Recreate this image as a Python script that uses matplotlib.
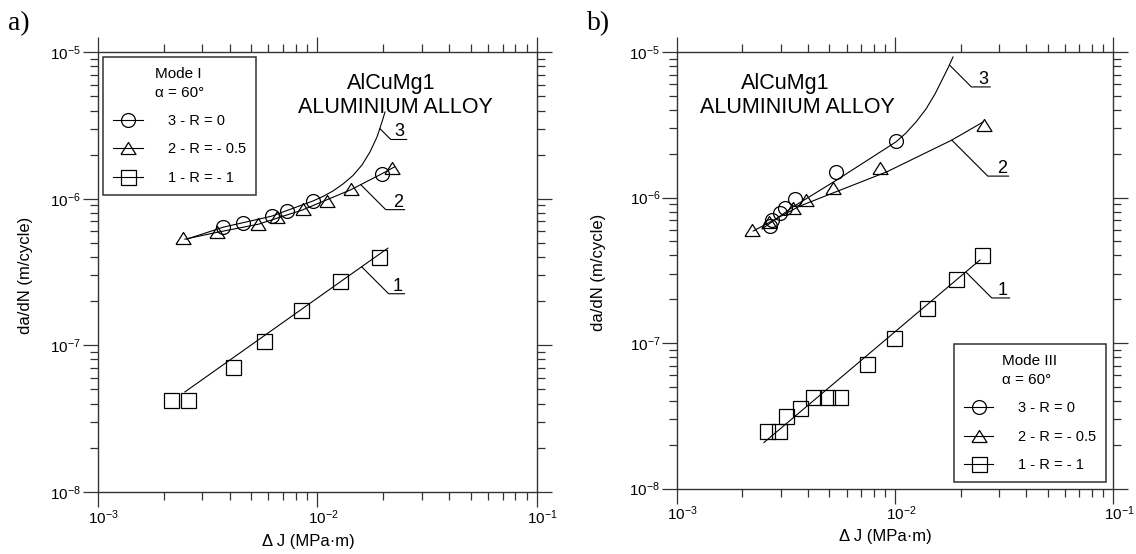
import numpy as np
import matplotlib
matplotlib.use("Agg")
import matplotlib.pyplot as plt
from matplotlib.lines import Line2D
from matplotlib.ticker import NullFormatter, LogLocator
from matplotlib.transforms import ScaledTranslation

plt.rcParams['font.family'] = ['Liberation Sans', 'DejaVu Sans']
plt.rcParams['mathtext.fontset'] = 'custom'
plt.rcParams['mathtext.rm'] = 'Liberation Sans'
plt.rcParams['mathtext.it'] = 'Liberation Sans:italic'
plt.rcParams['mathtext.default'] = 'regular'

# ---------------- panel a) Mode I ----------------
a_J_R0 = [3.74e-3, 4.61e-3, 6.21e-3, 7.27e-3, 9.6e-3, 1.97e-2]
a_da_R0 = [6.45e-7, 6.87e-7, 7.63e-7, 8.30e-7, 9.66e-7, 1.476e-6]
a_J_R05 = [2.44e-3, 3.49e-3, 5.37e-3, 6.55e-3, 8.65e-3, 1.106e-2, 1.42e-2, 2.19e-2]
a_da_R05 = [5.37e-7, 5.91e-7, 6.73e-7, 7.48e-7, 8.48e-7, 9.71e-7, 1.16e-6, 1.61e-6]
a_J_R1 = [2.15e-3, 2.59e-3, 4.15e-3, 5.75e-3, 8.45e-3, 1.27e-2, 1.91e-2]
a_da_R1 = [4.23e-8, 4.23e-8, 7.14e-8, 1.07e-7, 1.74e-7, 2.75e-7, 4.03e-7]

# fitted curves
a_fit3_J = [2.55e-3, 3.74e-3, 6.2e-3, 7.27e-3, 9.58e-3, 1.064e-2, 1.181e-2, 1.312e-2,
            1.457e-2, 1.601e-2, 1.741e-2, 1.874e-2, 1.974e-2, 2.038e-2]
a_fit3_da = [5.3e-7, 6.4e-7, 7.6e-7, 8.3e-7, 9.66e-7, 1.037e-6, 1.13e-6, 1.262e-6,
             1.442e-6, 1.701e-6, 2.087e-6, 2.642e-6, 3.343e-6, 3.913e-6]
a_fit2_J = [2.5e-3, 3.5e-3, 5.4e-3, 8.6e-3, 1.42e-2, 1.97e-2, 2.25e-2]
a_fit2_da = [5.3e-7, 5.9e-7, 6.7e-7, 8.4e-7, 1.15e-6, 1.48e-6, 1.65e-6]
a_fit1_J = [2.5e-3, 2.1e-2]
a_fit1_da = [4.8e-8, 4.6e-7]

# ---------------- panel b) Mode III ----------------
b_J_R0 = [2.68e-3, 2.73e-3, 2.97e-3, 3.13e-3, 3.48e-3, 5.37e-3, 1.01e-2]
b_da_R0 = [6.37e-7, 7.0e-7, 7.79e-7, 8.43e-7, 9.77e-7, 1.49e-6, 2.46e-6]
b_J_R05 = [2.22e-3, 2.66e-3, 3.41e-3, 3.91e-3, 5.2e-3, 8.54e-3, 2.56e-2]
b_da_R05 = [5.98e-7, 6.82e-7, 8.47e-7, 9.61e-7, 1.16e-6, 1.60e-6, 3.15e-6]
b_J_R1 = [2.60e-3, 2.95e-3, 3.18e-3, 3.69e-3, 4.19e-3, 4.88e-3, 5.58e-3,
          7.44e-3, 9.94e-3, 1.40e-2, 1.91e-2, 2.50e-2]
b_da_R1 = [2.49e-8, 2.49e-8, 3.15e-8, 3.56e-8, 4.27e-8, 4.27e-8, 4.27e-8,
           7.17e-8, 1.08e-7, 1.75e-7, 2.74e-7, 4.03e-7]

b_fit3_J = [2.46e-3, 3.42e-3, 5.41e-3, 1.01e-2, 1.123e-2, 1.248e-2, 1.387e-2,
            1.525e-2, 1.642e-2, 1.749e-2, 1.844e-2]
b_fit3_da = [6.08e-7, 8.64e-7, 1.32e-6, 2.41e-6, 2.776e-6, 3.303e-6, 4.057e-6,
             5.145e-6, 6.419e-6, 7.763e-6, 9.24e-6]
b_fit2_J = [2.24e-3, 3.67e-3, 5.41e-3, 9.16e-3, 1.82e-2, 2.53e-2]
b_fit2_da = [5.88e-7, 8.74e-7, 1.10e-6, 1.50e-6, 2.48e-6, 3.30e-6]
b_fit1_J = [2.51e-3, 2.45e-2]
b_fit1_da = [2.07e-8, 3.72e-7]

legend_labels = ['3 - R = 0', '2 - R = - 0.5', '1 - R = - 1']

TRI = [(-1, -0.8), (1, -0.8), (0, 0.8), (-1, -0.8)]
mk = dict(ls='none', mfc='none', mec='k', mew=0.9)
PX = 0.72  # points per pixel at dpi 100


def label_curve(ax, txt, J, da, x0, dx, dy):
    y0 = 10 ** np.interp(np.log10(x0), np.log10(J), np.log10(da))
    ax.annotate('', xy=(x0, y0), xytext=(dx * PX, dy * PX), textcoords='offset points',
                arrowprops=dict(arrowstyle='-', connectionstyle='angle,angleA=0,angleB=-45,rad=0',
                                shrinkA=0, shrinkB=0, lw=0.8, color='k'))
    ax.annotate(txt, xy=(x0, y0), xytext=((dx - 2) * PX, (dy + 3) * PX),
                textcoords='offset points', ha='right', va='baseline', fontsize=13)


def style_axes(ax):
    ax.set_xscale('log')
    ax.set_yscale('log')
    ax.set_xlim(1e-3, 1e-1)
    ax.set_ylim(1e-8, 1e-5)
    ax.xaxis.set_minor_locator(LogLocator(subs=np.arange(2, 10)))
    ax.yaxis.set_minor_locator(LogLocator(subs=np.arange(2, 10)))
    ax.xaxis.set_minor_formatter(NullFormatter())
    ax.yaxis.set_minor_formatter(NullFormatter())
    for s in ax.spines.values():
        s.set_linewidth(1.0)
        s.set_color('#333333')
    ax.tick_params(which='both', direction='out', top=True, right=True,
                   color='#333333', width=0.9, labelsize=11)
    ax.tick_params(which='major', length=10.8, pad=1.0)
    ax.tick_params(which='minor', length=5.6)
    shift = ScaledTranslation(6 / 100, 0, ax.figure.dpi_scale_trans)
    for lab in ax.get_xticklabels():
        lab.set_transform(lab.get_transform() + shift)
    ax.set_xlabel('Δ J (MPa·m)', fontsize=12)
    ax.set_ylabel('da/dN (m/cycle)', fontsize=12)


def legend_handles():
    return [Line2D([], [], color='k', lw=0.8, marker='o', ms=10, mfc='none', mew=0.9),
            Line2D([], [], color='k', lw=0.8, marker=TRI, ms=10.8, mfc='none', mew=0.9),
            Line2D([], [], color='k', lw=0.8, marker='s', ms=10.8, mfc='none', mew=0.9)]


def add_legend(ax, title, **kw):
    leg = ax.legend(legend_handles(), legend_labels, title=title, borderaxespad=0,
                    fontsize=10.5, title_fontsize=11, fancybox=False, edgecolor='#333333',
                    framealpha=1, borderpad=0.68, labelspacing=0.97, handlelength=2.05,
                    handletextpad=1.7, numpoints=1, **kw)
    leg.get_frame().set_linewidth(1.1)
    leg.get_title().set_linespacing(1.45)
    return leg


fig = plt.figure(figsize=(11.36, 5.54), dpi=100)
ax_a = fig.add_axes([97.5 / 1136, (554 - 491.7) / 554, 439.2 / 1136, 439.4 / 554])
ax_b = fig.add_axes([676.7 / 1136, (554 - 488.5) / 554, 436.6 / 1136, 436.5 / 554])

# ---- panel a ----
ax = ax_a
ax.plot(a_fit3_J, a_fit3_da, color='k', lw=0.8)
ax.plot(a_fit2_J, a_fit2_da, color='k', lw=0.8)
ax.plot(a_fit1_J, a_fit1_da, color='k', lw=0.8)
ax.plot(a_J_R0, a_da_R0, marker='o', ms=10, **mk)
ax.plot(a_J_R05, a_da_R05, marker=TRI, ms=10.8, **mk)
ax.plot(a_J_R1, a_da_R1, marker='s', ms=10.8, **mk)
style_axes(ax)
ax.xaxis.set_label_coords(0.479, -0.097)
ax.yaxis.set_label_coords(-0.146, 0.493)
label_curve(ax, '3', a_fit3_J, a_fit3_da, 1.93e-2, 27, -11)
label_curve(ax, '2', a_fit2_J, a_fit2_da, 1.58e-2, 44, -25)
label_curve(ax, '1', a_fit1_J, a_fit1_da, 1.595e-2, 43, -27)
ax.text(0.668, 0.9158, 'AlCuMg1', transform=ax.transAxes, ha='center', va='baseline', fontsize=15.5)
ax.text(0.679, 0.861, 'ALUMINIUM ALLOY', transform=ax.transAxes, ha='center', va='baseline', fontsize=15.5)
add_legend(ax, 'Mode I\nα = 60°', loc='upper left', bbox_to_anchor=(0.0125, 0.9886))

# ---- panel b ----
ax = ax_b
ax.plot(b_fit3_J, b_fit3_da, color='k', lw=0.8)
ax.plot(b_fit2_J, b_fit2_da, color='k', lw=0.8)
ax.plot(b_fit1_J, b_fit1_da, color='k', lw=0.8)
ax.plot(b_J_R0, b_da_R0, marker='o', ms=10, **mk)
ax.plot(b_J_R05, b_da_R05, marker=TRI, ms=10.8, **mk)
ax.plot(b_J_R1, b_da_R1, marker='s', ms=10.8, **mk)
style_axes(ax)
ax.xaxis.set_label_coords(0.479, -0.093)
ax.yaxis.set_label_coords(-0.162, 0.495)
label_curve(ax, '3', b_fit3_J, b_fit3_da, 1.775e-2, 41, -22)
label_curve(ax, '2', b_fit2_J, b_fit2_da, 1.82e-2, 57, -36)
label_curve(ax, '1', b_fit1_J, b_fit1_da, 2.11e-2, 44, -26)
ax.text(0.248, 0.9146, 'AlCuMg1', transform=ax.transAxes, ha='center', va='baseline', fontsize=15.5)
ax.text(0.2756, 0.8596, 'ALUMINIUM ALLOY', transform=ax.transAxes, ha='center', va='baseline', fontsize=15.5)
add_legend(ax, 'Mode III\nα = 60°', loc='lower right', bbox_to_anchor=(0.984, 0.0156))

fig.text(8 / 1136, (554 - 30) / 554, 'a)', family='Liberation Serif', fontsize=20, va='baseline')
fig.text(587 / 1136, (554 - 30) / 554, 'b)', family='Liberation Serif', fontsize=20, va='baseline')

fig.savefig('out.png', dpi=100)
